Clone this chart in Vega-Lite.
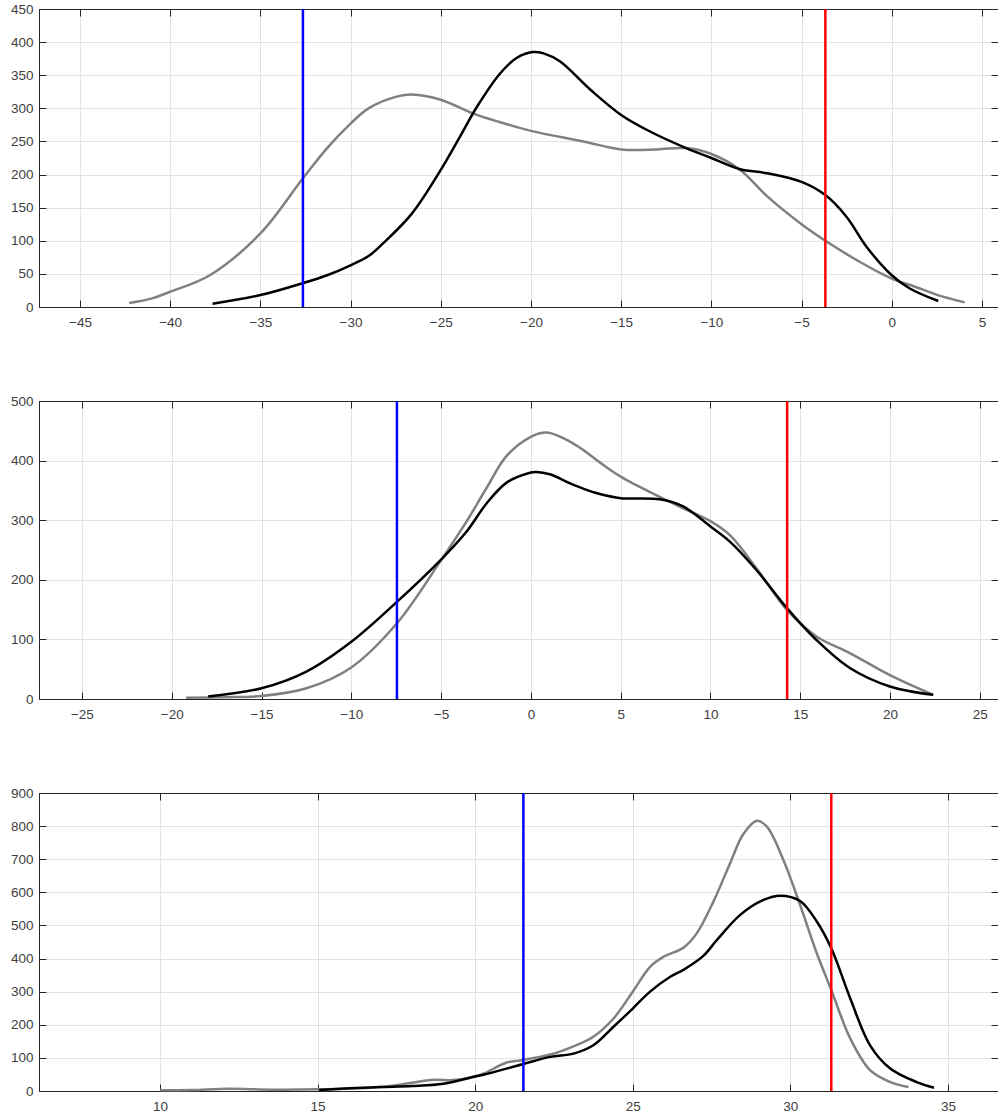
{
  "$schema": "https://vega.github.io/schema/vega-lite/v6.json",
  "autosize": {"type": "pad"},
  "padding": {"left": 10, "top": 2, "right": 0, "bottom": 4},
  "background": "white",
  "spacing": 94,
  "bounds": "flush",
  "config": {
    "view": {"stroke": null},
    "axis": {
      "labelFont": "Liberation Sans",
      "labelFontSize": 13.5,
      "labelColor": "#404040",
      "tickColor": "#262626",
      "tickSize": -7,
      "labelPadding": 13,
      "domainColor": "#262626",
      "gridColor": "#e3e3e3",
      "title": null
    },
    "axisBottom": {"labelPadding": 15}
  },
  "datasets": {
    "curves": [
      {"p":1,"s":"A","x":-42.27,"y":6},{"p":1,"s":"A","x":-41,"y":13},{"p":1,"s":"A","x":-40,"y":23},{"p":1,"s":"A","x":-37.8,"y":48},{"p":1,"s":"A","x":-35,"y":111},{"p":1,"s":"A","x":-32.65,"y":194},{"p":1,"s":"A","x":-31.3,"y":240},{"p":1,"s":"A","x":-30,"y":277},{"p":1,"s":"A","x":-29,"y":300},{"p":1,"s":"A","x":-27.4,"y":318},{"p":1,"s":"A","x":-26.6,"y":321},{"p":1,"s":"A","x":-25,"y":313},{"p":1,"s":"A","x":-23.2,"y":292},{"p":1,"s":"A","x":-21.7,"y":279},{"p":1,"s":"A","x":-20,"y":266},{"p":1,"s":"A","x":-17.1,"y":250},{"p":1,"s":"A","x":-15,"y":238},{"p":1,"s":"A","x":-13,"y":238},{"p":1,"s":"A","x":-11.4,"y":240},{"p":1,"s":"A","x":-10,"y":231},{"p":1,"s":"A","x":-8.4,"y":207},{"p":1,"s":"A","x":-6.9,"y":167},{"p":1,"s":"A","x":-5,"y":125},{"p":1,"s":"A","x":-3.68,"y":100},{"p":1,"s":"A","x":-1.76,"y":68},{"p":1,"s":"A","x":0,"y":43},{"p":1,"s":"A","x":1.26,"y":31},{"p":1,"s":"A","x":2.56,"y":18},{"p":1,"s":"A","x":3.2,"y":13},{"p":1,"s":"A","x":4.04,"y":7},
      {"p":1,"s":"B","x":-37.65,"y":5},{"p":1,"s":"B","x":-35,"y":18},{"p":1,"s":"B","x":-32.65,"y":36},{"p":1,"s":"B","x":-31.3,"y":48},{"p":1,"s":"B","x":-30,"y":63},{"p":1,"s":"B","x":-29,"y":77},{"p":1,"s":"B","x":-28.2,"y":96},{"p":1,"s":"B","x":-26.6,"y":141},{"p":1,"s":"B","x":-25,"y":207},{"p":1,"s":"B","x":-23.94,"y":257},{"p":1,"s":"B","x":-23.0,"y":302},{"p":1,"s":"B","x":-21.7,"y":353},{"p":1,"s":"B","x":-20.8,"y":376},{"p":1,"s":"B","x":-19.9,"y":385},{"p":1,"s":"B","x":-19.3,"y":383},{"p":1,"s":"B","x":-18.4,"y":371},{"p":1,"s":"B","x":-16.7,"y":328},{"p":1,"s":"B","x":-15,"y":290},{"p":1,"s":"B","x":-13.4,"y":265},{"p":1,"s":"B","x":-11.4,"y":240},{"p":1,"s":"B","x":-10,"y":225},{"p":1,"s":"B","x":-8.4,"y":208},{"p":1,"s":"B","x":-6.9,"y":202},{"p":1,"s":"B","x":-5,"y":189},{"p":1,"s":"B","x":-3.68,"y":169},{"p":1,"s":"B","x":-2.5,"y":136},{"p":1,"s":"B","x":-1.4,"y":91},{"p":1,"s":"B","x":0,"y":48},{"p":1,"s":"B","x":1.0,"y":28},{"p":1,"s":"B","x":2.58,"y":9},
      {"p":2,"s":"A","x":-19.2,"y":2},{"p":2,"s":"A","x":-17,"y":3},{"p":2,"s":"A","x":-15,"y":5},{"p":2,"s":"A","x":-12.5,"y":18},{"p":2,"s":"A","x":-10,"y":53},{"p":2,"s":"A","x":-7.46,"y":127},{"p":2,"s":"A","x":-5,"y":233},{"p":2,"s":"A","x":-3.58,"y":298},{"p":2,"s":"A","x":-2.47,"y":354},{"p":2,"s":"A","x":-1.35,"y":408},{"p":2,"s":"A","x":0,"y":440},{"p":2,"s":"A","x":0.9,"y":447},{"p":2,"s":"A","x":2.17,"y":432},{"p":2,"s":"A","x":2.91,"y":418},{"p":2,"s":"A","x":3.84,"y":397},{"p":2,"s":"A","x":5,"y":373},{"p":2,"s":"A","x":7.18,"y":339},{"p":2,"s":"A","x":8.48,"y":320},{"p":2,"s":"A","x":10.02,"y":298},{"p":2,"s":"A","x":11.08,"y":275},{"p":2,"s":"A","x":12.57,"y":219},{"p":2,"s":"A","x":14.27,"y":149},{"p":2,"s":"A","x":15.9,"y":105},{"p":2,"s":"A","x":17.76,"y":77},{"p":2,"s":"A","x":19.99,"y":40},{"p":2,"s":"A","x":22.4,"y":7},
      {"p":2,"s":"B","x":-17.97,"y":4},{"p":2,"s":"B","x":-15,"y":18},{"p":2,"s":"B","x":-12.5,"y":46},{"p":2,"s":"B","x":-10,"y":96},{"p":2,"s":"B","x":-7.46,"y":163},{"p":2,"s":"B","x":-5,"y":234},{"p":2,"s":"B","x":-3.58,"y":281},{"p":2,"s":"B","x":-2.47,"y":328},{"p":2,"s":"B","x":-1.35,"y":363},{"p":2,"s":"B","x":0,"y":380},{"p":2,"s":"B","x":0.3,"y":381},{"p":2,"s":"B","x":1.06,"y":377},{"p":2,"s":"B","x":2.17,"y":362},{"p":2,"s":"B","x":2.91,"y":353},{"p":2,"s":"B","x":3.84,"y":344},{"p":2,"s":"B","x":5,"y":337},{"p":2,"s":"B","x":7.18,"y":335},{"p":2,"s":"B","x":8.48,"y":323},{"p":2,"s":"B","x":10.02,"y":289},{"p":2,"s":"B","x":11.08,"y":264},{"p":2,"s":"B","x":12.57,"y":216},{"p":2,"s":"B","x":14.27,"y":152},{"p":2,"s":"B","x":15.9,"y":99},{"p":2,"s":"B","x":17.76,"y":52},{"p":2,"s":"B","x":19.99,"y":21},{"p":2,"s":"B","x":22.4,"y":7},
      {"p":3,"s":"A","x":10,"y":2},{"p":3,"s":"A","x":11,"y":3},{"p":3,"s":"A","x":12.2,"y":7},{"p":3,"s":"A","x":13.5,"y":4},{"p":3,"s":"A","x":15,"y":5},{"p":3,"s":"A","x":17,"y":12},{"p":3,"s":"A","x":18,"y":25},{"p":3,"s":"A","x":18.7,"y":34},{"p":3,"s":"A","x":19.3,"y":33},{"p":3,"s":"A","x":20,"y":44},{"p":3,"s":"A","x":20.26,"y":52},{"p":3,"s":"A","x":21.0,"y":86},{"p":3,"s":"A","x":21.47,"y":93},{"p":3,"s":"A","x":22.38,"y":110},{"p":3,"s":"A","x":23.12,"y":135},{"p":3,"s":"A","x":23.75,"y":164},{"p":3,"s":"A","x":24.39,"y":219},{"p":3,"s":"A","x":25,"y":300},{"p":3,"s":"A","x":25.55,"y":375},{"p":3,"s":"A","x":25.97,"y":405},{"p":3,"s":"A","x":26.61,"y":433},{"p":3,"s":"A","x":27.03,"y":476},{"p":3,"s":"A","x":27.56,"y":572},{"p":3,"s":"A","x":28.09,"y":688},{"p":3,"s":"A","x":28.51,"y":776},{"p":3,"s":"A","x":28.94,"y":816},{"p":3,"s":"A","x":29.25,"y":799},{"p":3,"s":"A","x":29.78,"y":698},{"p":3,"s":"A","x":30.31,"y":562},{"p":3,"s":"A","x":30.84,"y":416},{"p":3,"s":"A","x":31.3,"y":305},{"p":3,"s":"A","x":31.9,"y":159},{"p":3,"s":"A","x":32.53,"y":63},{"p":3,"s":"A","x":33.17,"y":27},{"p":3,"s":"A","x":33.75,"y":12},
      {"p":3,"s":"B","x":15.05,"y":3},{"p":3,"s":"B","x":16,"y":8},{"p":3,"s":"B","x":17,"y":12},{"p":3,"s":"B","x":18,"y":15},{"p":3,"s":"B","x":19,"y":22},{"p":3,"s":"B","x":20,"y":44},{"p":3,"s":"B","x":20.26,"y":49},{"p":3,"s":"B","x":21.47,"y":80},{"p":3,"s":"B","x":22.38,"y":103},{"p":3,"s":"B","x":23.12,"y":113},{"p":3,"s":"B","x":23.75,"y":138},{"p":3,"s":"B","x":24.39,"y":194},{"p":3,"s":"B","x":25,"y":249},{"p":3,"s":"B","x":25.55,"y":300},{"p":3,"s":"B","x":26.19,"y":345},{"p":3,"s":"B","x":26.61,"y":366},{"p":3,"s":"B","x":27.24,"y":408},{"p":3,"s":"B","x":27.67,"y":456},{"p":3,"s":"B","x":28.41,"y":532},{"p":3,"s":"B","x":29.15,"y":577},{"p":3,"s":"B","x":29.68,"y":590},{"p":3,"s":"B","x":30.31,"y":574},{"p":3,"s":"B","x":30.84,"y":512},{"p":3,"s":"B","x":31.3,"y":431},{"p":3,"s":"B","x":31.9,"y":280},{"p":3,"s":"B","x":32.53,"y":138},{"p":3,"s":"B","x":33.17,"y":68},{"p":3,"s":"B","x":34.01,"y":27},{"p":3,"s":"B","x":34.56,"y":10}
    ],
    "lines": [
      {"p":1,"c":"lo","x":-32.64},{"p":1,"c":"hi","x":-3.68},
      {"p":2,"c":"lo","x":-7.46},{"p":2,"c":"hi","x":14.27},
      {"p":3,"c":"lo","x":21.53},{"p":3,"c":"hi","x":31.3}
    ]
  },
  "vconcat": [
    {
      "width": 959, "height": 298,
      "resolve": {"axis": {"x": "independent", "y": "independent"}, "scale": {"color": "independent"}},
      "layer": [
        {
          "data": {"name": "curves"}, "transform": [{"filter": "datum.p == 1"}],
          "mark": {"type": "line", "strokeWidth": 2.5, "interpolate": "catmull-rom"},
          "encoding": {
            "x": {"field": "x", "type": "quantitative", "scale": {"domain": [-47.27, 5.89], "nice": false, "zero": false}, "axis": {"orient": "bottom", "values": [-45,-40,-35,-30,-25,-20,-15,-10,-5,0,5], "grid": true}},
            "y": {"field": "y", "type": "quantitative", "scale": {"domain": [0, 450], "nice": false}, "axis": {"orient": "left", "values": [0,50,100,150,200,250,300,350,400,450], "grid": true}},
            "color": {"field": "s", "type": "nominal", "scale": {"domain": ["A","B"], "range": ["#808080","#000000"]}, "legend": null}
          }
        },
        {
          "data": {"name": "lines"}, "transform": [{"filter": "datum.p == 1"}],
          "mark": {"type": "rule", "strokeWidth": 2.5},
          "encoding": {
            "x": {"field": "x", "type": "quantitative", "scale": {"domain": [-47.27, 5.89], "nice": false, "zero": false}, "axis": {"orient": "top", "values": [-45,-40,-35,-30,-25,-20,-15,-10,-5,0,5], "labels": false, "grid": false}},
            "color": {"field": "c", "type": "nominal", "scale": {"domain": ["lo","hi"], "range": ["#0000ff","#ff0000"]}, "legend": null}
          }
        },
        {
          "data": {"name": "curves"}, "transform": [{"filter": "datum.p == 1"}],
          "mark": {"type": "point", "opacity": 0},
          "encoding": {
            "x": {"field": "x", "type": "quantitative", "scale": {"domain": [-47.27, 5.89], "nice": false, "zero": false}, "axis": null},
            "y": {"field": "y", "type": "quantitative", "scale": {"domain": [0, 450], "nice": false}, "axis": {"orient": "right", "values": [0,50,100,150,200,250,300,350,400,450], "labels": false, "grid": false, "domain": false}}
          }
        }
      ]
    },
    {
      "width": 959, "height": 298,
      "resolve": {"axis": {"x": "independent", "y": "independent"}, "scale": {"color": "independent"}},
      "layer": [
        {
          "data": {"name": "curves"}, "transform": [{"filter": "datum.p == 2"}],
          "mark": {"type": "line", "strokeWidth": 2.5, "interpolate": "catmull-rom"},
          "encoding": {
            "x": {"field": "x", "type": "quantitative", "scale": {"domain": [-27.39, 26.01], "nice": false, "zero": false}, "axis": {"orient": "bottom", "values": [-25,-20,-15,-10,-5,0,5,10,15,20,25], "grid": true}},
            "y": {"field": "y", "type": "quantitative", "scale": {"domain": [0, 500], "nice": false}, "axis": {"orient": "left", "values": [0,100,200,300,400,500], "grid": true}},
            "color": {"field": "s", "type": "nominal", "scale": {"domain": ["A","B"], "range": ["#808080","#000000"]}, "legend": null}
          }
        },
        {
          "data": {"name": "lines"}, "transform": [{"filter": "datum.p == 2"}],
          "mark": {"type": "rule", "strokeWidth": 2.5},
          "encoding": {
            "x": {"field": "x", "type": "quantitative", "scale": {"domain": [-27.39, 26.01], "nice": false, "zero": false}, "axis": {"orient": "top", "values": [-25,-20,-15,-10,-5,0,5,10,15,20,25], "labels": false, "grid": false}},
            "color": {"field": "c", "type": "nominal", "scale": {"domain": ["lo","hi"], "range": ["#0000ff","#ff0000"]}, "legend": null}
          }
        },
        {
          "data": {"name": "curves"}, "transform": [{"filter": "datum.p == 2"}],
          "mark": {"type": "point", "opacity": 0},
          "encoding": {
            "x": {"field": "x", "type": "quantitative", "scale": {"domain": [-27.39, 26.01], "nice": false, "zero": false}, "axis": null},
            "y": {"field": "y", "type": "quantitative", "scale": {"domain": [0, 500], "nice": false}, "axis": {"orient": "right", "values": [0,100,200,300,400,500], "labels": false, "grid": false, "domain": false}}
          }
        }
      ]
    },
    {
      "width": 959, "height": 298,
      "resolve": {"axis": {"x": "independent", "y": "independent"}, "scale": {"color": "independent"}},
      "layer": [
        {
          "data": {"name": "curves"}, "transform": [{"filter": "datum.p == 3"}],
          "mark": {"type": "line", "strokeWidth": 2.5, "interpolate": "catmull-rom"},
          "encoding": {
            "x": {"field": "x", "type": "quantitative", "scale": {"domain": [6.16, 36.59], "nice": false, "zero": false}, "axis": {"orient": "bottom", "values": [10,15,20,25,30,35], "grid": true}},
            "y": {"field": "y", "type": "quantitative", "scale": {"domain": [0, 900], "nice": false}, "axis": {"orient": "left", "values": [0,100,200,300,400,500,600,700,800,900], "grid": true}},
            "color": {"field": "s", "type": "nominal", "scale": {"domain": ["A","B"], "range": ["#808080","#000000"]}, "legend": null}
          }
        },
        {
          "data": {"name": "lines"}, "transform": [{"filter": "datum.p == 3"}],
          "mark": {"type": "rule", "strokeWidth": 2.5},
          "encoding": {
            "x": {"field": "x", "type": "quantitative", "scale": {"domain": [6.16, 36.59], "nice": false, "zero": false}, "axis": {"orient": "top", "values": [10,15,20,25,30,35], "labels": false, "grid": false}},
            "color": {"field": "c", "type": "nominal", "scale": {"domain": ["lo","hi"], "range": ["#0000ff","#ff0000"]}, "legend": null}
          }
        },
        {
          "data": {"name": "curves"}, "transform": [{"filter": "datum.p == 3"}],
          "mark": {"type": "point", "opacity": 0},
          "encoding": {
            "x": {"field": "x", "type": "quantitative", "scale": {"domain": [6.16, 36.59], "nice": false, "zero": false}, "axis": null},
            "y": {"field": "y", "type": "quantitative", "scale": {"domain": [0, 900], "nice": false}, "axis": {"orient": "right", "values": [0,100,200,300,400,500,600,700,800,900], "labels": false, "grid": false, "domain": false}}
          }
        }
      ]
    }
  ]
}
